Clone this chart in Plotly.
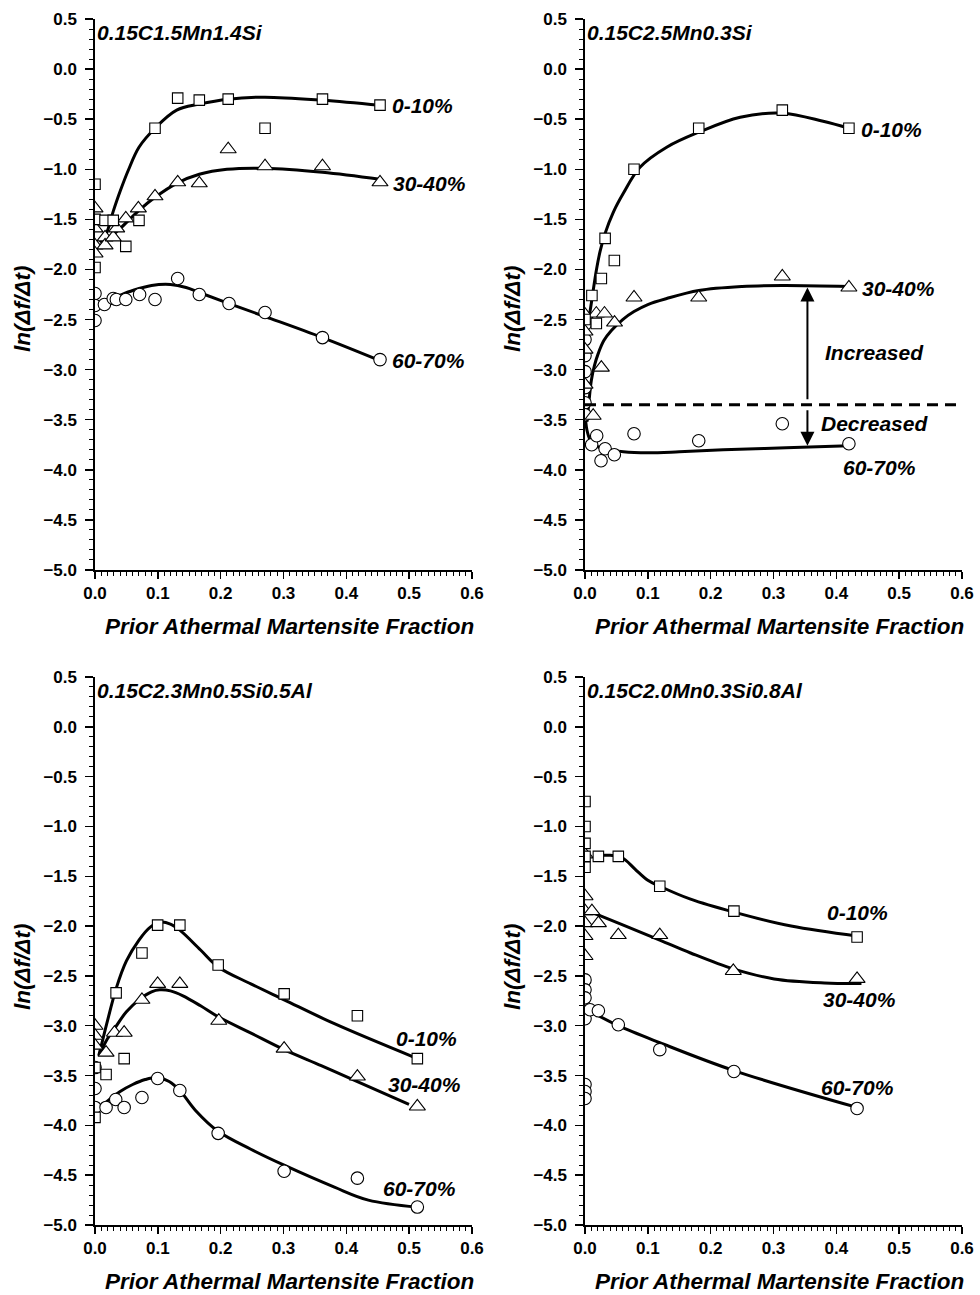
import plotly.graph_objects as go

# ---------------- DATA ----------------
panel_names = ["0.15C1.5Mn1.4Si", "0.15C2.5Mn0.3Si", "0.15C2.3Mn0.5Si0.5Al", "0.15C2.0Mn0.3Si0.8Al"]
series_names = ["0-10%", "30-40%", "60-70%"]
x_ticks = [0.0, 0.1, 0.2, 0.3, 0.4, 0.5, 0.6]
y_ticks = [0.5, 0.0, -0.5, -1.0, -1.5, -2.0, -2.5, -3.0, -3.5, -4.0, -4.5, -5.0]

# Panel 1: 0.15C1.5Mn1.4Si
p1_sq_x = [0.0, 0.0, 0.0, 0.016, 0.029, 0.049, 0.070, 0.0955, 0.1316, 0.166, 0.212, 0.2706, 0.362, 0.4536]
p1_sq_y = [-1.15, -1.98, -1.50, -1.51, -1.51, -1.77, -1.51, -0.59, -0.29, -0.31, -0.30, -0.59, -0.30, -0.36]
p1_tr_x = [0.0, 0.0, 0.0, 0.0, 0.016, 0.016, 0.029, 0.0345, 0.049, 0.069, 0.0955, 0.1316, 0.166, 0.212, 0.2706, 0.362, 0.4536]
p1_tr_y = [-1.39, -1.59, -1.76, -1.84, -1.68, -1.76, -1.68, -1.59, -1.49, -1.39, -1.27, -1.13, -1.14, -0.80, -0.97, -0.97, -1.13]
p1_ci_x = [0.0, 0.0, 0.0, 0.015, 0.029, 0.034, 0.049, 0.071, 0.0955, 0.1316, 0.166, 0.2133, 0.2706, 0.362, 0.4536]
p1_ci_y = [-2.24, -2.36, -2.51, -2.35, -2.29, -2.30, -2.30, -2.25, -2.30, -2.09, -2.25, -2.34, -2.43, -2.68, -2.90]
p1_fit1_x = [0.008, 0.018, 0.029, 0.04, 0.053, 0.07, 0.0955, 0.13, 0.166, 0.212, 0.27, 0.362, 0.4536]
p1_fit1_y = [-1.73, -1.64, -1.42, -1.22, -1.01, -0.78, -0.59, -0.41, -0.35, -0.30, -0.28, -0.31, -0.36]
p1_fit2_x = [0.006, 0.02, 0.042, 0.07, 0.0955, 0.13, 0.166, 0.21, 0.27, 0.362, 0.4536]
p1_fit2_y = [-1.78, -1.70, -1.58, -1.41, -1.28, -1.14, -1.05, -1.00, -0.99, -1.03, -1.10]
p1_fit3_x = [0.006, 0.03, 0.06, 0.09, 0.12, 0.145, 0.166, 0.2133, 0.2706, 0.362, 0.4536]
p1_fit3_y = [-2.33, -2.28, -2.21, -2.16, -2.15, -2.18, -2.23, -2.34, -2.47, -2.68, -2.91]
p1_label_x = [0.521, 0.533, 0.530]
p1_label_y = [-0.367, -1.137, -2.91]

# Panel 2: 0.15C2.5Mn0.3Si
p2_sq_x = [0.0, 0.011, 0.018, 0.026, 0.032, 0.0467, 0.078, 0.181, 0.314, 0.420]
p2_sq_y = [-2.50, -2.26, -2.54, -2.09, -1.69, -1.91, -1.00, -0.59, -0.41, -0.59]
p2_tr_x = [0.0, 0.0, 0.0, 0.0, 0.013, 0.018, 0.026, 0.031, 0.047, 0.078, 0.181, 0.314, 0.420]
p2_tr_y = [-2.45, -2.62, -2.80, -3.15, -3.46, -2.44, -2.98, -2.44, -2.53, -2.28, -2.28, -2.07, -2.18]
p2_ci_x = [0.0, 0.0, 0.0, 0.0, 0.0, 0.0, 0.0, 0.0106, 0.0186, 0.0255, 0.032, 0.0467, 0.078, 0.181, 0.314, 0.420]
p2_ci_y = [-2.55, -2.70, -2.86, -3.02, -3.18, -3.33, -3.45, -3.75, -3.66, -3.91, -3.79, -3.85, -3.64, -3.71, -3.54, -3.74]
p2_fit1_x = [0.003, 0.005, 0.010, 0.018, 0.024, 0.032, 0.045, 0.061, 0.0875, 0.13, 0.181, 0.247, 0.314, 0.379, 0.420]
p2_fit1_y = [-2.62, -2.54, -2.34, -2.01, -1.82, -1.64, -1.43, -1.24, -0.98, -0.78, -0.63, -0.48, -0.44, -0.52, -0.59]
p2_fit2_x = [0.003, 0.006, 0.010, 0.015, 0.021, 0.030, 0.042, 0.06, 0.078, 0.10, 0.13, 0.181, 0.25, 0.314, 0.42]
p2_fit2_y = [-3.52, -3.34, -3.11, -2.96, -2.84, -2.71, -2.61, -2.50, -2.42, -2.35, -2.29, -2.21, -2.17, -2.16, -2.17]
p2_fit3_x = [0.0, 0.003, 0.008, 0.015, 0.024, 0.04, 0.061, 0.1, 0.15, 0.22, 0.32, 0.42]
p2_fit3_y = [-3.44, -3.60, -3.70, -3.75, -3.78, -3.80, -3.82, -3.83, -3.82, -3.80, -3.78, -3.76]
p2_label_x = [0.488, 0.499, 0.469]
p2_label_y = [-0.603, -2.19, -3.977]
p2_threshold_y = -3.35
p2_threshold_end_x = 0.61
p2_arrow_x = 0.354
p2_arrow_up = [-3.31, -2.18]     # tail, head
p2_arrow_down = [-3.39, -3.76]   # tail, head
p2_notes = ["Increased", "Decreased"]
p2_notes_x = [0.4615, 0.4615]
p2_notes_y = [-2.827, -3.537]

# Panel 3: 0.15C2.3Mn0.5Si0.5Al
p3_sq_x = [0.0, 0.0, 0.0176, 0.0336, 0.0464, 0.0747, 0.0997, 0.135, 0.196, 0.301, 0.4176, 0.513]
p3_sq_y = [-3.42, -3.92, -3.49, -2.67, -3.33, -2.27, -1.99, -1.99, -2.39, -2.68, -2.90, -3.33]
p3_tr_x = [0.0, 0.0, 0.0, 0.0176, 0.031, 0.0464, 0.0747, 0.0997, 0.135, 0.197, 0.301, 0.4176, 0.513]
p3_tr_y = [-3.00, -3.10, -3.20, -3.27, -3.07, -3.07, -2.74, -2.58, -2.58, -2.95, -3.23, -3.51, -3.81]
p3_ci_x = [0.0, 0.0, 0.0, 0.0176, 0.033, 0.0464, 0.0747, 0.0997, 0.135, 0.196, 0.301, 0.4176, 0.513]
p3_ci_y = [-3.42, -3.63, -3.82, -3.82, -3.74, -3.82, -3.72, -3.53, -3.65, -4.08, -4.46, -4.53, -4.82]
p3_fit1_x = [0.006, 0.012, 0.0187, 0.034, 0.05, 0.07, 0.088, 0.105, 0.12, 0.135, 0.168, 0.196, 0.248, 0.301, 0.381, 0.513]
p3_fit1_y = [-3.30, -3.15, -2.98, -2.62, -2.35, -2.14, -2.01, -1.96, -1.98, -2.04, -2.24, -2.41, -2.58, -2.74, -2.98, -3.33]
p3_fit2_x = [0.008, 0.018, 0.032, 0.05, 0.072, 0.09, 0.103, 0.12, 0.14, 0.168, 0.196, 0.25, 0.301, 0.36, 0.4176, 0.4997]
p3_fit2_y = [-3.28, -3.15, -3.02, -2.86, -2.73, -2.66, -2.64, -2.65, -2.70, -2.80, -2.91, -3.08, -3.24, -3.40, -3.56, -3.79]
p3_fit3_x = [0.012, 0.025, 0.04, 0.06, 0.08, 0.0997, 0.118, 0.135, 0.16, 0.196, 0.248, 0.301, 0.381, 0.435, 0.513]
p3_fit3_y = [-3.80, -3.73, -3.66, -3.59, -3.54, -3.52, -3.56, -3.65, -3.85, -4.06, -4.24, -4.40, -4.62, -4.75, -4.82]
p3_label_x = [0.528, 0.524, 0.517]
p3_label_y = [-3.128, -3.59, -4.63]

# Panel 4: 0.15C2.0Mn0.3Si0.8Al
p4_sq_x = [0.0, 0.0, 0.0, 0.0, 0.0, 0.0213, 0.053, 0.119, 0.237, 0.433]
p4_sq_y = [-0.75, -1.00, -1.17, -1.30, -1.41, -1.30, -1.30, -1.60, -1.85, -2.11]
p4_tr_x = [0.0, 0.0, 0.0, 0.0, 0.0, 0.0, 0.011, 0.0213, 0.053, 0.119, 0.236, 0.433]
p4_tr_y = [-1.28, -1.70, -1.85, -1.97, -2.10, -2.30, -1.85, -1.97, -2.09, -2.09, -2.45, -2.53]
p4_ci_x = [0.0, 0.0, 0.0, 0.0, 0.0, 0.0, 0.0, 0.008, 0.0213, 0.053, 0.119, 0.237, 0.433]
p4_ci_y = [-2.54, -2.64, -2.72, -2.93, -3.59, -3.66, -3.73, -2.84, -2.85, -2.99, -3.24, -3.46, -3.83]
p4_fit1_x = [0.0213, 0.04, 0.055, 0.065, 0.08, 0.1, 0.119, 0.168, 0.237, 0.328, 0.433]
p4_fit1_y = [-1.29, -1.29, -1.30, -1.34, -1.43, -1.54, -1.60, -1.73, -1.86, -2.00, -2.10]
p4_fit2_x = [0.01, 0.061, 0.119, 0.168, 0.236, 0.301, 0.381, 0.44]
p4_fit2_y = [-1.86, -1.99, -2.14, -2.27, -2.43, -2.53, -2.57, -2.575]
p4_fit3_x = [0.01, 0.053, 0.119, 0.237, 0.433]
p4_fit3_y = [-2.86, -3.00, -3.17, -3.45, -3.82]
p4_label_x = [0.433, 0.437, 0.434]
p4_label_y = [-1.865, -2.736, -3.62]

panels = [
    dict(sq=(p1_sq_x, p1_sq_y), tr=(p1_tr_x, p1_tr_y), ci=(p1_ci_x, p1_ci_y),
         fits=[(p1_fit1_x, p1_fit1_y), (p1_fit2_x, p1_fit2_y), (p1_fit3_x, p1_fit3_y)],
         lab=(p1_label_x, p1_label_y)),
    dict(sq=(p2_sq_x, p2_sq_y), tr=(p2_tr_x, p2_tr_y), ci=(p2_ci_x, p2_ci_y),
         fits=[(p2_fit1_x, p2_fit1_y), (p2_fit2_x, p2_fit2_y), (p2_fit3_x, p2_fit3_y)],
         lab=(p2_label_x, p2_label_y)),
    dict(sq=(p3_sq_x, p3_sq_y), tr=(p3_tr_x, p3_tr_y), ci=(p3_ci_x, p3_ci_y),
         fits=[(p3_fit1_x, p3_fit1_y), (p3_fit2_x, p3_fit2_y), (p3_fit3_x, p3_fit3_y)],
         lab=(p3_label_x, p3_label_y)),
    dict(sq=(p4_sq_x, p4_sq_y), tr=(p4_tr_x, p4_tr_y), ci=(p4_ci_x, p4_ci_y),
         fits=[(p4_fit1_x, p4_fit1_y), (p4_fit2_x, p4_fit2_y), (p4_fit3_x, p4_fit3_y)],
         lab=(p4_label_x, p4_label_y)),
]

# ---------------- STYLE / LAYOUT ----------------
W, H = 980, 1295
FONT = "Liberation Sans"
# pixel boxes of each plot area: (left, right, top, bottom)
boxes = [(95, 472, 19, 570), (585, 962, 19, 570), (95, 472, 677, 1225), (585, 962, 677, 1225)]

fig = go.Figure()

def ax_names(i):
    return ("x" if i == 0 else f"x{i+1}"), ("y" if i == 0 else f"y{i+1}")

marker_line = dict(color="black", width=1.1)
for i, p in enumerate(panels):
    xr, yr = ax_names(i)
    for fx, fy in p["fits"]:
        fig.add_trace(go.Scatter(x=fx, y=fy, mode="lines", xaxis=xr, yaxis=yr,
                                 line=dict(color="black", width=3, shape="spline", smoothing=1.0),
                                 showlegend=False, hoverinfo="skip"))
    for key, sym, size in (("ci", "circle", 12.5), ("tr", "triangle-up", 14), ("sq", "square", 10.5)):
        mx, my = p[key]
        fig.add_trace(go.Scatter(x=mx, y=my, mode="markers", xaxis=xr, yaxis=yr,
                                 marker=dict(symbol=sym, size=size, color="white", line=marker_line),
                                 showlegend=False))

tickfont = dict(family=FONT, size=17, color="black", weight="bold")
ann_font = dict(family=FONT, size=21, color="black", weight="bold", style="italic")
name_font = dict(family=FONT, size=21, color="black", weight="bold", style="italic")
title_font = dict(family=FONT, size=22.5, color="black", weight="bold", style="italic")

def fmt(v):
    s = f"{abs(v):.1f}"
    return s if v >= 0 else "\u2212" + s

layout = dict(width=W, height=H, margin=dict(l=0, r=0, t=0, b=0),
              paper_bgcolor="white", plot_bgcolor="white", showlegend=False)
annotations = []
for i, (l, r, t, b) in enumerate(boxes):
    xr, yr = ax_names(i)
    xk = "xaxis" if i == 0 else f"xaxis{i+1}"
    yk = "yaxis" if i == 0 else f"yaxis{i+1}"
    layout[xk] = dict(domain=[l / W, r / W], anchor=yr, range=[0, 0.6],
                      tickmode="array", tickvals=x_ticks, ticktext=[fmt(v) for v in x_ticks],
                      ticks="outside", ticklen=7, tickwidth=1.5, tickcolor="black",
                      minor=dict(dtick=0.01, ticks="outside", ticklen=4, tickwidth=1, tickcolor="black"),
                      showline=True, linecolor="black", linewidth=1.6, showgrid=False, zeroline=False,
                      tickfont=tickfont, automargin=False, fixedrange=True)
    layout[yk] = dict(domain=[1 - b / H, 1 - t / H], anchor=xr, range=[-5, 0.5],
                      tickmode="array", tickvals=y_ticks, ticktext=[fmt(v) for v in y_ticks],
                      ticks="outside", ticklen=8, tickwidth=1.5, tickcolor="black",
                      minor=dict(dtick=0.1, ticks="outside", ticklen=4, tickwidth=1, tickcolor="black"),
                      showline=True, linecolor="black", linewidth=1.6, showgrid=False, zeroline=False,
                      tickfont=tickfont, ticklabelstandoff=5, automargin=False, fixedrange=True)
    # panel title
    annotations.append(dict(x=0.0, y=0.365, xref=xr, yref=yr, text=panel_names[i], showarrow=False,
                            xanchor="left", yanchor="middle", font=name_font))
    # series labels
    lx, ly = panels[i]["lab"]
    for name, sx, sy in zip(series_names, lx, ly):
        annotations.append(dict(x=sx, y=sy, xref=xr, yref=yr, text=name, showarrow=False,
                                xanchor="center", yanchor="middle", font=ann_font))
    # axis titles
    annotations.append(dict(x=((l + r) / 2 + 5.5) / W, y=1 - (b + 56) / H, xref="paper", yref="paper",
                            text="Prior Athermal Martensite Fraction", showarrow=False,
                            xanchor="center", yanchor="middle", font=title_font))
    annotations.append(dict(x=(l - 73) / W, y=1 - (t + 290) / H, xref="paper", yref="paper",
                            text="ln(<i>Δ</i>f/<i>Δ</i>t)", showarrow=False, textangle=-90,
                            xanchor="center", yanchor="middle", font=title_font))

# panel 2 extras: arrows and notes
for tail, head in (p2_arrow_up, p2_arrow_down):
    annotations.append(dict(x=p2_arrow_x, y=head, ax=p2_arrow_x, ay=tail,
                            xref="x2", yref="y2", axref="x2", ayref="y2", text="", showarrow=True,
                            arrowhead=2, arrowsize=1.4, arrowwidth=2, arrowcolor="black", standoff=0))
for t_, nx, ny in zip(p2_notes, p2_notes_x, p2_notes_y):
    annotations.append(dict(x=nx, y=ny, xref="x2", yref="y2", text=t_, showarrow=False,
                            xanchor="center", yanchor="middle", font=ann_font))

layout["annotations"] = annotations
layout["shapes"] = [dict(type="line", xref="x2", yref="y2", x0=0.0, x1=p2_threshold_end_x,
                         y0=p2_threshold_y, y1=p2_threshold_y,
                         line=dict(color="black", width=3, dash="11px,7px"))]
fig.update_layout(**layout)
# remove the default page margin so the 980x1295 figure fills the window exactly
fig.write_html("out.html", config={"displayModeBar": False, "staticPlot": True},
               post_script="document.body.style.margin='0';document.body.style.overflow='hidden';")
